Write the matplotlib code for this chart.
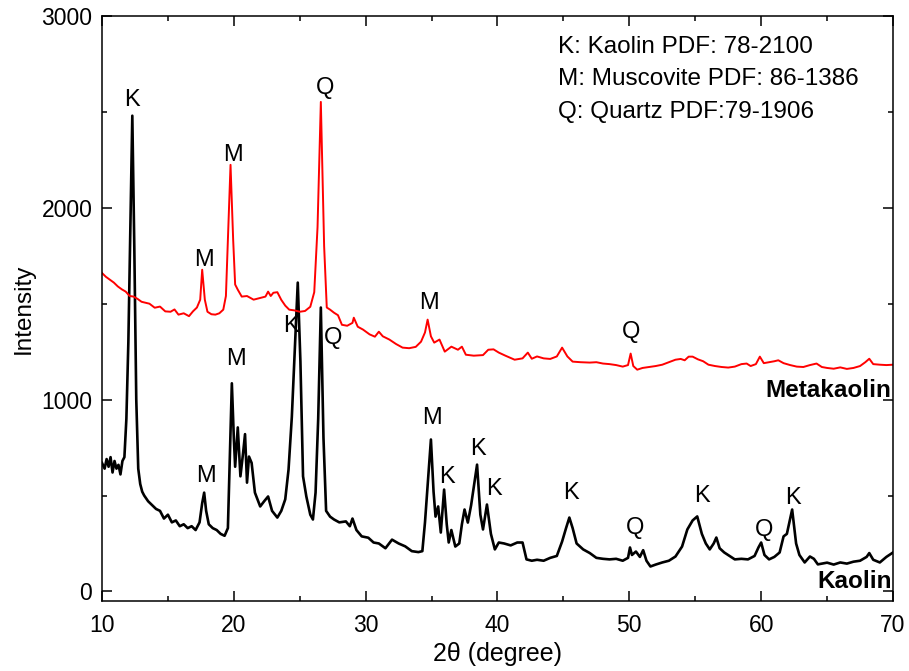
import matplotlib
matplotlib.use('Agg')
import matplotlib.pyplot as plt
from matplotlib.ticker import MultipleLocator

plt.rcParams['font.family'] = ['Liberation Sans', 'DejaVu Sans']

# ---- data (2theta in degree, intensity in counts) ----
kaolin_2theta = [
    10.0, 10.2, 10.35, 10.5, 10.65, 10.8, 10.95, 11.1, 11.25, 11.4, 11.55, 11.7,
    11.85, 12.0, 12.15, 12.3, 12.45, 12.6, 12.75, 12.9, 13.05, 13.2, 13.5, 13.8,
    14.1, 14.4, 14.7, 15.0, 15.3, 15.6, 15.9, 16.2, 16.5, 16.8, 17.1, 17.4, 17.6,
    17.75, 17.9, 18.1, 18.4, 18.7, 19.0, 19.3, 19.55, 19.7, 19.85, 20.0, 20.1,
    20.3, 20.5, 20.7, 20.85, 21.0, 21.15, 21.35, 21.6, 22.0, 22.3, 22.6, 22.9,
    23.3, 23.6, 23.9, 24.15, 24.4, 24.65, 24.85, 25.05, 25.25, 25.5, 25.8, 26.0,
    26.2, 26.4, 26.6, 26.8, 27.0, 27.3, 27.6, 28.0, 28.5, 28.8, 29.0, 29.3, 29.7,
    30.2, 30.6, 31.0, 31.5, 32.0, 32.5, 33.0, 33.5, 34.0, 34.3, 34.5, 34.75,
    34.95, 35.15, 35.3, 35.5, 35.7, 35.95, 36.15, 36.3, 36.5, 36.8, 37.1, 37.3,
    37.5, 37.75, 38.0, 38.45, 38.7, 38.9, 39.2, 39.5, 39.8, 40.1, 40.5, 41.0,
    41.5, 41.9, 42.2, 42.6, 43.0, 43.5, 44.0, 44.5, 44.9, 45.2, 45.45, 45.7,
    46.0, 46.5, 47.0, 47.5, 48.0, 48.5, 49.0, 49.5, 49.9, 50.05, 50.2, 50.5,
    50.8, 51.05, 51.3, 51.6, 52.0, 52.5, 53.0, 53.5, 54.0, 54.4, 54.8, 55.15,
    55.5, 55.8, 56.1, 56.4, 56.6, 56.85, 57.2, 57.6, 58.0, 58.5, 59.0, 59.5,
    59.8, 60.0, 60.25, 60.6, 61.0, 61.4, 61.7, 61.95, 62.35, 62.65, 62.9, 63.3,
    63.7, 64.0, 64.3, 65.0, 65.5, 66.0, 66.5, 67.0, 67.5, 68.0, 68.2, 68.5,
    69.0, 69.5, 70.0]
kaolin_int = [
    670, 640, 690, 650, 700, 620, 680, 640, 660, 610, 680, 700,
    900, 1300, 1900, 2480, 1800, 1000, 640, 560, 520, 500, 470, 450,
    430, 420, 380, 400, 360, 370, 340, 350, 330, 340, 320, 360, 460,
    515, 420, 350, 330, 320, 300, 290, 330, 700, 1085, 800, 650,
    855, 600, 720, 820, 567, 703, 670, 515, 443, 470, 495, 420,
    385, 420, 480, 635, 910, 1300, 1610, 1200, 600, 495, 400, 375,
    515, 900, 1480, 800, 420, 390, 375, 360, 365, 340, 380, 320, 287,
    280, 255, 250, 225, 270, 250, 235, 210, 205, 210, 360, 600,
    792, 520, 390, 443, 307, 531, 350, 255, 320, 234, 250, 350,
    427, 359, 450, 661, 400, 323, 453, 300, 219, 255, 250, 240,
    255, 255, 167, 160, 165, 160, 175, 185, 260, 330, 385, 330,
    250, 219, 200, 175, 170, 167, 170, 160, 175, 229, 190, 208,
    180, 215, 160, 130, 140, 151, 160, 182, 234, 323, 370, 391,
    300, 250, 219, 250, 281, 225, 203, 185, 167, 170, 167, 185,
    230, 255, 190, 167, 180, 203, 287, 300, 427, 250, 190, 151,
    182, 170, 141, 150, 140, 151, 145, 155, 160, 180, 200, 165,
    151, 180, 203]

metakaolin_2theta = [
    10.0, 10.3, 10.6, 10.9, 11.2, 11.5, 11.8, 12.1, 12.4, 12.7, 13.0, 13.3,
    13.6, 14.0, 14.4, 14.8, 15.2, 15.5, 15.8, 16.2, 16.6, 16.9, 17.2, 17.45,
    17.6, 17.8, 18.0, 18.3, 18.6, 18.9, 19.2, 19.4, 19.55, 19.75, 19.95, 20.1,
    20.3, 20.6, 21.0, 21.5, 22.0, 22.4, 22.6, 22.8, 23.0, 23.3, 23.6, 23.9,
    24.2, 24.6, 25.0, 25.4, 25.8, 26.1, 26.35, 26.6, 26.85, 27.05, 27.3, 27.6,
    27.9, 28.2, 28.6, 29.0, 29.1, 29.4, 29.8, 30.3, 30.7, 31.0, 31.3, 31.8,
    32.3, 32.8, 33.3, 33.8, 34.2, 34.5, 34.7, 34.95, 35.2, 35.6, 36.0, 36.5,
    37.0, 37.3, 37.6, 38.2, 38.9, 39.3, 39.7, 40.1, 40.6, 41.3, 41.9, 42.3,
    42.6, 43.0, 43.5, 44.0, 44.5, 44.9, 45.3, 45.7, 46.3, 47.0, 47.5, 48.0,
    48.5, 49.0, 49.5, 49.9, 50.1, 50.3, 50.6, 51.0, 51.5, 52.0, 52.5, 53.0,
    53.5, 53.9, 54.2, 54.5, 54.8, 55.2, 55.6, 56.0, 56.5, 57.0, 57.5, 58.0,
    58.5, 58.9, 59.2, 59.6, 59.9, 60.2, 60.6, 61.0, 61.3, 61.7, 62.2, 62.7,
    63.2, 63.7, 64.2, 64.6, 65.0, 65.5, 66.0, 66.5, 67.0, 67.5, 67.9, 68.2,
    68.5, 69.0, 69.5, 70.0]
metakaolin_int = [
    1660, 1640, 1625, 1610, 1590, 1575, 1563, 1540, 1537, 1525, 1510, 1505,
    1500, 1479, 1485, 1460, 1458, 1470, 1443, 1450, 1435, 1460, 1480, 1521,
    1677, 1521, 1458, 1445, 1443, 1450, 1469, 1540, 1833, 2224, 1833, 1600,
    1573, 1537, 1540, 1521, 1530, 1537, 1563, 1540, 1557, 1560, 1520, 1490,
    1469, 1465, 1458, 1462, 1484, 1560, 1900, 2552, 1800, 1480, 1469, 1453,
    1440, 1390, 1385, 1400, 1427, 1380, 1365, 1340, 1328, 1354, 1330, 1313,
    1290, 1271, 1268, 1275, 1302, 1350, 1417, 1330, 1297, 1313, 1250, 1276,
    1260, 1276, 1234, 1229, 1232, 1260, 1262, 1245, 1229, 1208, 1215, 1245,
    1213, 1225, 1215, 1212, 1225, 1271, 1225, 1198, 1195, 1193, 1195, 1188,
    1185, 1180, 1172, 1180, 1240, 1175, 1156, 1165, 1170, 1175, 1182, 1195,
    1208, 1212, 1205, 1224, 1224, 1210, 1200, 1182, 1175, 1170, 1167, 1172,
    1185, 1188, 1175, 1185, 1224, 1190, 1195, 1200, 1205, 1190, 1180, 1172,
    1170, 1180, 1188, 1170, 1165, 1161, 1168, 1160, 1165, 1175, 1195, 1213,
    1185, 1182, 1180, 1182]

# phase labels: (text, 2theta, intensity)
kaolin_marks = [
    ('K', 12.3, 2560), ('M', 17.9, 600), ('M', 20.2, 1210), ('K', 24.3, 1385),
    ('Q', 27.5, 1320), ('M', 35.05, 905), ('K', 36.2, 595), ('K', 38.5, 740),
    ('K', 39.75, 535), ('K', 45.6, 515), ('Q', 50.45, 330), ('K', 55.5, 495),
    ('Q', 60.2, 320), ('K', 62.4, 485)]
metakaolin_marks = [
    ('M', 17.7, 1730), ('M', 19.95, 2275), ('Q', 26.9, 2625), ('M', 34.8, 1505),
    ('Q', 50.1, 1350)]

phase_notes = ['K: Kaolin PDF: 78-2100',
               'M: Muscovite PDF: 86-1386',
               'Q: Quartz PDF:79-1906']

fig = plt.figure(figsize=(9.09, 6.71), dpi=100)
ax = fig.add_axes([0.1122, 0.1043, 0.8702, 0.8719])

ax.plot(kaolin_2theta, kaolin_int, color='black', lw=1.9)
ax.plot(metakaolin_2theta, metakaolin_int, color='red', lw=1.4)

for txt, x, y in kaolin_marks + metakaolin_marks:
    ax.text(x, y, txt, fontsize=17, ha='center', va='center')

for i, line in enumerate(phase_notes):
    ax.text(0.577, 0.947 - i * 0.0555, line, transform=ax.transAxes,
            fontsize=17.5, ha='left', va='center')

ax.text(69.9, 1050, 'Metakaolin', fontsize=17.5, fontweight='bold', ha='right', va='center')
ax.text(69.9, 52, 'Kaolin', fontsize=17.5, fontweight='bold', ha='right', va='center')

ax.set_xlim(10, 70)
ax.set_ylim(-50, 3000)
ax.xaxis.set_major_locator(MultipleLocator(10))
ax.xaxis.set_minor_locator(MultipleLocator(5))
ax.yaxis.set_major_locator(MultipleLocator(1000))
ax.yaxis.set_minor_locator(MultipleLocator(500))
ax.tick_params(which='both', direction='in', top=True, right=True, width=1.1,
               labelsize=16.5)
ax.tick_params(which='major', length=7)
ax.tick_params(which='minor', length=3.5)
ax.tick_params(axis='x', which='major', pad=9)
ax.tick_params(axis='y', which='major', pad=7)
for s in ax.spines.values():
    s.set_linewidth(1.1)

ax.set_xlabel('2\u03b8 (degree)', fontsize=18, labelpad=4)
ax.set_ylabel('Intensity', fontsize=17.5, labelpad=5)

fig.savefig('out.png', dpi=100)
